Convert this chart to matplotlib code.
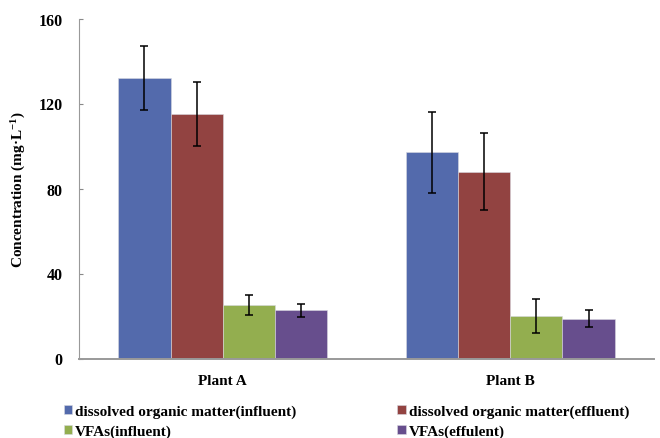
import matplotlib
matplotlib.use('Agg')
import matplotlib.pyplot as plt
import numpy as np

plt.rcParams['font.family'] = 'Liberation Serif'
plt.rcParams['font.weight'] = 'bold'
plt.rcParams['mathtext.fontset'] = 'custom'
plt.rcParams['mathtext.rm'] = 'Liberation Serif:bold'
plt.rcParams['mathtext.bf'] = 'Liberation Serif:bold'
plt.rcParams['mathtext.default'] = 'bf'

# dados
plantas = ['Plant A', 'Plant B']
series = ['dissolved organic matter(influent)', 'dissolved organic matter(effluent)',
          'VFAs(influent)', 'VFAs(effulent)']
dom_in = [132, 97]
dom_in_err = [15, 19]
dom_out = [115, 88]
dom_out_err = [15, 18]
vfa_in = [25.4, 20.2]
vfa_in_err = [4.7, 8]
vfa_out = [22.6, 18.7]
vfa_out_err = [3, 4]

cores = ['#536AAC', '#924341', '#93AE4F', '#674E8D']

valores = [dom_in, dom_out, vfa_in, vfa_out]
erros = [dom_in_err, dom_out_err, vfa_in_err, vfa_out_err]

fig = plt.figure(figsize=(6.6, 4.39), dpi=100)
ax = fig.add_axes([79 / 660, 1 - 359.5 / 439, 575 / 660, 340 / 439])

x = np.arange(len(plantas))
largura = 0.1816
barras = []
for i in range(4):
    pos = x + (i - 1.5) * largura
    b = ax.bar(pos, valores[i], largura, color=cores[i], edgecolor='#d8d8e0', linewidth=0.4,
               yerr=erros[i], error_kw=dict(ecolor='black', elinewidth=1.1, capsize=3, capthick=1.1))
    barras.append(b)

ax.set_xlim(-0.5, 1.5)
ax.set_ylim(0, 160)
ax.set_yticks([0, 40, 80, 120, 160])
ax.set_xticks(x)
ax.set_xticklabels(plantas, fontsize=11, fontweight='bold')
ax.tick_params(axis='x', length=0, pad=11)
ax.tick_params(axis='y', direction='in', length=3, color='#888888', labelsize=11.5, pad=12)
for s in ['top', 'right']:
    ax.spines[s].set_visible(False)
ax.spines['left'].set_color('#999999')
ax.spines['bottom'].set_color('#999999')
ax.spines['bottom'].set_linewidth(1.4)
ax.set_ylabel('Concentration (mg·L$^{-1}$)', fontsize=11, fontweight='bold', labelpad=7)

fig.legend([barras[0], barras[2], barras[1], barras[3]],
           [series[0], series[2], series[1], series[3]],
           loc='upper left', bbox_to_anchor=(56 / 660, 1 - 398 / 439), ncol=2, frameon=False,
           fontsize=11, handlelength=0.55, handleheight=0.55, handletextpad=0.2,
           columnspacing=6.6, labelspacing=0.4, borderpad=0)

plt.savefig('out.png', dpi=100)
plt.close()
